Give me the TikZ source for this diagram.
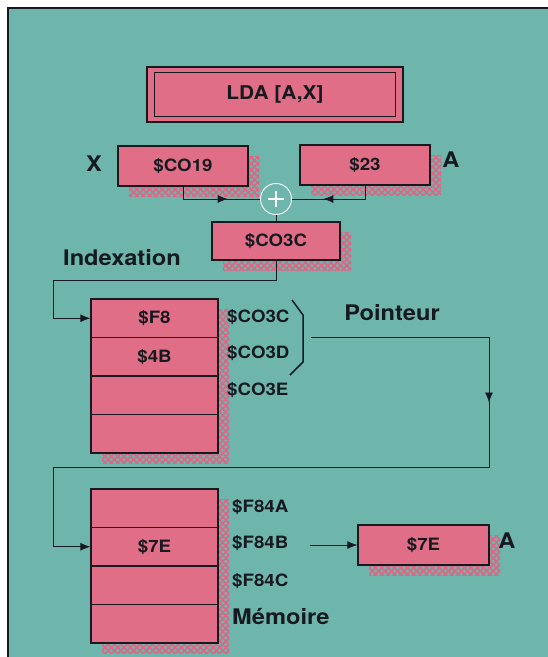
\documentclass[tikz,border=0pt]{standalone}
\usepackage{fontspec}
\setmainfont{TeX Gyre Heros}[FakeStretch=1.1]
\usetikzlibrary{arrows.meta,patterns.meta,shadows,decorations.markings,positioning}

\definecolor{panel}{RGB}{110,182,172}
\definecolor{cellpink}{RGB}{224,110,134}
\definecolor{hatchpink}{RGB}{232,96,130}
\definecolor{ink}{RGB}{22,26,32}

\tikzset{
  cell/.style={draw=ink, fill=cellpink, line width=1.3pt, minimum width=127pt,
    minimum height=38.5pt, inner sep=0pt, text=ink, font=\fontsize{17}{17}\selectfont\bfseries},
  hatched/.style={
    general shadow={shadow xshift=11pt, shadow yshift=-10pt, draw=none,
      pattern={Lines[angle=45,distance=4.5pt,line width=1.5pt]}, pattern color=hatchpink},
    general shadow={shadow xshift=11pt, shadow yshift=-10pt, draw=none,
      pattern={Lines[angle=-45,distance=4.5pt,line width=1.5pt]}, pattern color=hatchpink}},
  link/.style={draw=ink, line width=0.8pt},
  arr/.style={-{Latex[length=10pt,width=8pt]}},
  midtip/.style={postaction={decorate}, decoration={markings,
    mark=at position #1 with {\arrow{Latex[length=10pt,width=8pt]}}}},
  addr/.style={anchor=west, inner sep=0pt, text=ink, font=\fontsize{17}{17}\selectfont\bfseries},
  title/.style={inner sep=0pt, text=ink, font=\fontsize{21.5}{21.5}\selectfont\bfseries},
}

\begin{document}
\begin{tikzpicture}[x=1pt, y=-1pt]
\useasboundingbox (0,0) rectangle (548,657);
\fill[white] (0,0) rectangle (548,657);
\fill[panel] (8,8) rectangle (548,657);
\draw[ink, line width=1.2pt] (8,657) -- (8,8) -- (548,8);

% instruction
\node[cell, minimum width=256pt, minimum height=55pt, line width=1.6pt,
  font=\fontsize{19}{19}\selectfont\bfseries] (instr) at (275,94.5) {LDA [A,X]};
\draw[ink, line width=0.7pt] ([shift={(8,6)}]instr.north west) rectangle ([shift={(-8,-6)}]instr.south east);

% registres
\node[cell, hatched, minimum width=130pt, minimum height=40pt] (regx) at (183,166) {\$CO19};
\node[cell, hatched, minimum width=130pt, minimum height=40pt] (rega) at (365,165) {\$23};
\node[title] (lblx) at (94,164) {X};
\node[title] (lbla) at (451,160) {A};

\node[circle, draw=white, line width=0.9pt, minimum size=31pt, inner sep=0pt] (sum) at (276,199) {};
\draw[white, line width=1.8pt] ([xshift=-8pt]sum.center) -- ([xshift=8pt]sum.center)
  ([yshift=-8pt]sum.center) -- ([yshift=8pt]sum.center);

\node[cell, hatched, minimum width=128pt, minimum height=38pt] (eff) at (276,241) {\$CO3C};
\node[title] (idx) at (122,258) {Indexation};

\draw[link, midtip=57pt] (regx.south) |- (sum.west);
\draw[link, midtip=55pt] (rega.south) |- (sum.east);
\draw[link] (sum.south) -- (eff.north);

% table du pointeur
\foreach \v [count=\i] in {{\$F8},{\$4B},{},{}}
  \node[cell, hatched] (p\i) at (154.5,318.25+38.5*\i-38.5) {\v};
\node[addr] (pa1) at (227,317) {\$CO3C};
\node[addr] (pa2) at (227,353) {\$CO3D};
\node[addr] (pa3) at (227,390) {\$CO3E};
\draw[ink, line width=1.5pt] (292,300) -- (303,315) -- (303,362) -- (290,375);
\node[title] (ptrlbl) at (392,313) {Pointeur};

\coordinate (bendA) at (53,280);
\draw[link, arr] (eff.south) |- (bendA) |- (p1.west);

% memoire
\foreach \v [count=\i] in {{},{\$7E},{},{}}
  \node[cell, hatched] (q\i) at (154.5,508.25+38.5*\i-38.5) {\v};
\node[addr] (qa1) at (232,507) {\$F84A};
\node[addr] (qa2) at (232,543) {\$F84B};
\node[addr] (qa3) at (232,581) {\$F84C};
\node[title, anchor=west] (mem) at (232,617) {Mémoire};

\coordinate (ptr) at (311,337.5);
\coordinate (turn) at (489,467);
\coordinate (bendB) at (53,467);
\draw[link, arr, midtip=243pt] (ptr) -| (turn) -- (bendB) |- (q2.west);

\node[cell, hatched, minimum width=131pt, minimum height=40pt] (val) at (423.5,545) {\$7E};
\node[title] (lblv) at (507,541) {A};
\coordinate (out) at (310,545);
\draw[link, arr] (out) -- (val.west);

\end{tikzpicture}
\end{document}
